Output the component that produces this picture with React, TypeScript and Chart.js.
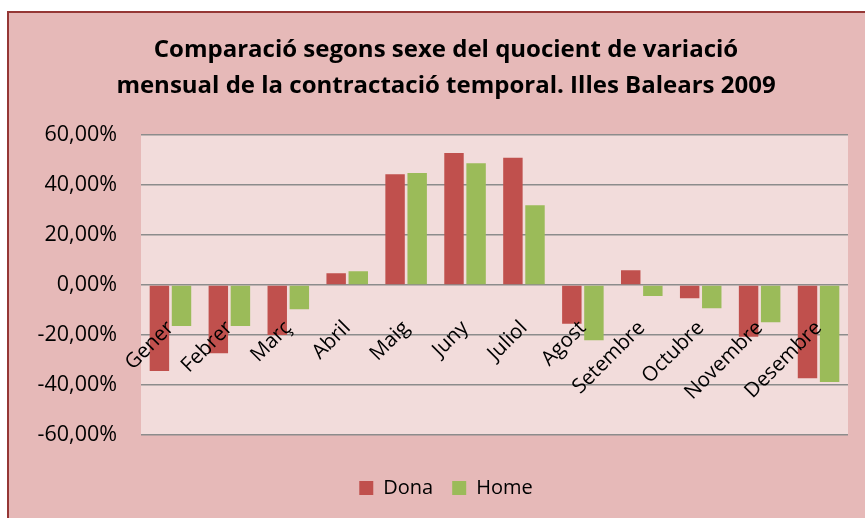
import React, { useEffect, useRef } from 'react';
import { Chart, registerables } from 'chart.js';

Chart.register(...registerables);

const categories = ['Gener', 'Febrer', 'Març', 'Abril', 'Maig', 'Juny', 'Juliol', 'Agost', 'Setembre', 'Octubre', 'Novembre', 'Desembre'];
const dona = [-34.4, -27.3, -20.0, 4.7, 44.3, 52.8, 50.9, -15.5, 5.9, -5.3, -20.7, -37.3];
const home = [-16.4, -16.4, -9.7, 5.5, 44.8, 48.7, 31.9, -22.1, -4.4, -9.3, -14.9, -38.8];
const yMin = -60;
const yMax = 60;
const yStep = 20;
const titleLines = ['Comparació segons sexe del quocient de variació', 'mensual de la contractació temporal. Illes Balears 2009'];
const seriesNames = ['Dona', 'Home'];

const FONT = "'Open Sans', sans-serif";

const plotBg = {
  id: 'plotBg',
  beforeDraw(chart: any) {
    const { ctx, chartArea: a } = chart;
    ctx.save();
    ctx.fillStyle = '#F2DCDB';
    ctx.fillRect(a.left, a.top, a.right - a.left, a.bottom - a.top);
    ctx.restore();
  },
};

export default function App() {
  const ref = useRef<HTMLCanvasElement | null>(null);

  useEffect(() => {
    if (!ref.current) return;
    const chart = new Chart(ref.current, {
      type: 'bar',
      data: {
        labels: categories,
        datasets: [
          { label: seriesNames[0], data: dona, backgroundColor: '#C0504D', borderWidth: 0, categoryPercentage: 0.75, barPercentage: 0.88 },
          { label: seriesNames[1], data: home, backgroundColor: '#9BBB59', borderWidth: 0, categoryPercentage: 0.75, barPercentage: 0.88 },
        ],
      },
      options: {
        animation: false,
        responsive: false,
        maintainAspectRatio: false,
        layout: { padding: { left: 0, right: 0, top: 0, bottom: 10 } },
        plugins: {
          title: {
            display: true,
            text: titleLines,
            color: '#000',
            font: { family: FONT, size: 24, weight: 'bold', lineHeight: 36 / 24 },
            padding: { top: 19, bottom: 31 },
          },
          legend: {
            position: 'bottom',
            labels: { boxWidth: 14, boxHeight: 14, padding: 19, color: '#000', font: { family: FONT, size: 20 } },
            title: { display: true, text: '', padding: 6, font: { size: 10 } },
          },
          tooltip: { enabled: false },
        },
        scales: {
          x: {
            position: { y: 0 },
            grid: { display: false, drawTicks: false },
            border: { display: false },
            ticks: {
              minRotation: 45,
              maxRotation: 45,
              autoSkip: false,
              padding: 31,
              z: 1,
              color: '#000',
              font: { family: FONT, size: 20.5 },
            },
            afterFit: (s: any) => { s.height = 0; },
          },
          y: {
            min: yMin,
            max: yMax,
            ticks: {
              stepSize: yStep,
              padding: 24,
              color: '#000',
              font: { family: FONT, size: 21.5 },
              callback: (v: any) => `${Number(v).toFixed(2).replace('.', ',')}%`,
            },
            grid: { color: '#8C8C8C', lineWidth: 1.5, drawTicks: false },
            border: { display: false },
            afterFit: (s: any) => { s.width = 132; },
          },
          y2: {
            position: 'right',
            grid: { display: false, drawTicks: false },
            border: { display: false },
            ticks: { display: false },
            afterFit: (s: any) => { s.width = 35; },
          },
        },
      } as any,
      plugins: [plotBg],
    });
    return () => chart.destroy();
  }, []);

  return (
    <div style={{ position: 'fixed', left: 0, top: 0, width: 865, height: 518, overflow: 'hidden', background: '#fff' }}>
      <div
        style={{
          position: 'absolute',
          left: 7,
          top: 11,
          width: 876,
          height: 520,
          boxSizing: 'border-box',
          borderLeft: '2px solid #953735',
          borderTop: '2px solid #953735',
          background: '#E6B9B8',
        }}
      >
        <canvas ref={ref} width={874} height={505} style={{ display: 'block' }} />
      </div>
    </div>
  );
}
